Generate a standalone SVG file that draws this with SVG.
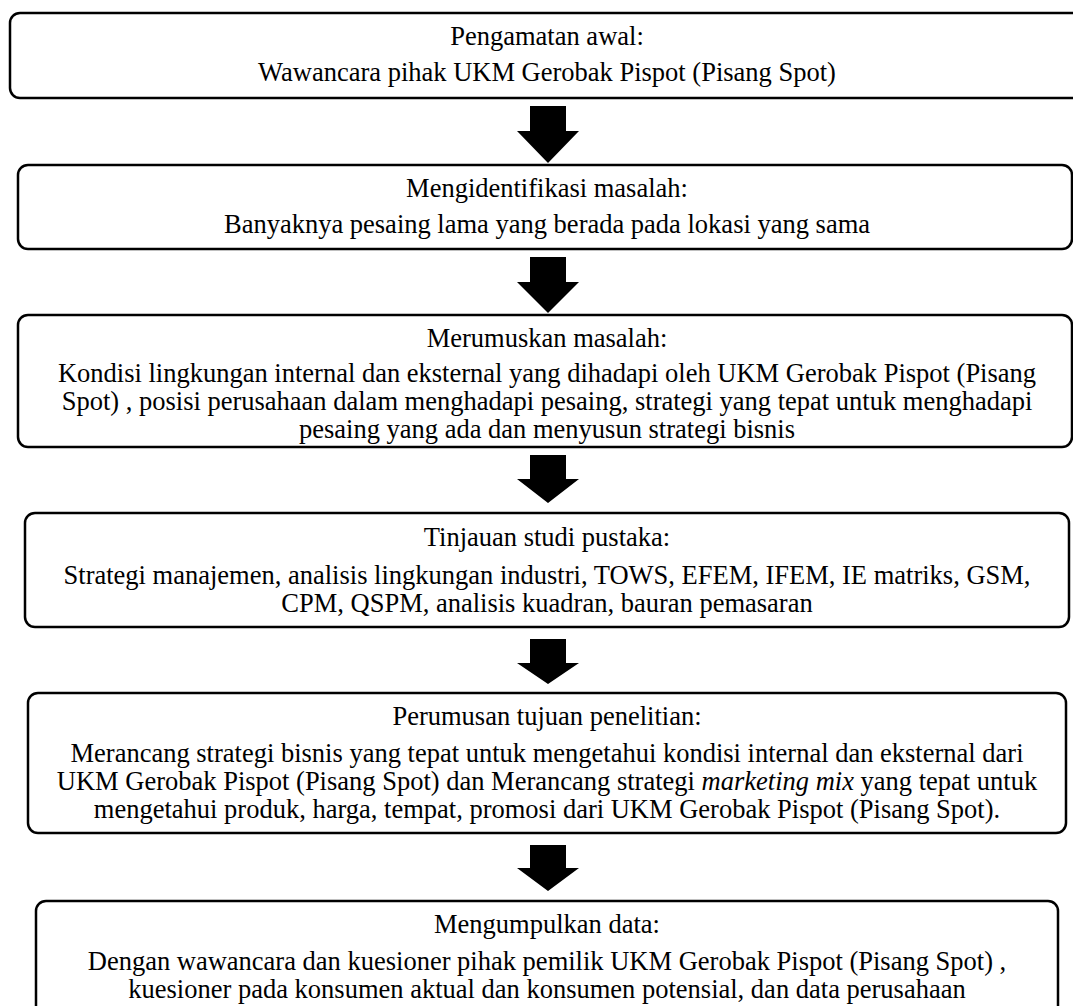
<svg xmlns="http://www.w3.org/2000/svg" width="1073" height="1006" viewBox="0 0 1073 1006">
<style>
.box{fill:#fff;stroke:#000;stroke-width:2.5}
text{font-family:"Liberation Serif","Times New Roman",serif;font-size:26.5px;fill:#000;text-anchor:middle}
.arr{fill:#000;stroke:none}
</style>
<rect width="1073" height="1006" fill="#fff"/>
<g id="node1">
<rect class="box" x="10" y="13" width="1080" height="85" rx="10"/>
<text x="547" y="45">Pengamatan awal:</text>
<text x="547" y="81">Wawancara pihak UKM Gerobak Pispot (Pisang Spot)</text>
</g>
<g id="node2">
<rect class="box" x="18" y="165" width="1054" height="84" rx="10"/>
<text x="547" y="197">Mengidentifikasi masalah:</text>
<text x="547" y="233">Banyaknya pesaing lama yang berada pada lokasi yang sama</text>
</g>
<g id="node3">
<rect class="box" x="18" y="315" width="1054" height="132" rx="10"/>
<text x="547" y="347">Merumuskan masalah:</text>
<text x="547" y="382">Kondisi lingkungan internal dan eksternal yang dihadapi oleh UKM Gerobak Pispot (Pisang</text>
<text x="547" y="410">Spot) , posisi perusahaan dalam menghadapi pesaing, strategi yang tepat untuk menghadapi</text>
<text x="547" y="438">pesaing yang ada dan menyusun strategi bisnis</text>
</g>
<g id="node4">
<rect class="box" x="25" y="513" width="1044" height="114" rx="10"/>
<text x="547" y="546">Tinjauan studi pustaka:</text>
<text x="547" y="584">Strategi manajemen, analisis lingkungan industri, TOWS, EFEM, IFEM, IE matriks, GSM,</text>
<text x="547" y="612">CPM, QSPM, analisis kuadran, bauran pemasaran</text>
</g>
<g id="node5">
<rect class="box" x="28" y="693" width="1038" height="140" rx="10"/>
<text x="547" y="725">Perumusan tujuan penelitian:</text>
<text x="547" y="762">Merancang strategi bisnis yang tepat untuk mengetahui kondisi internal dan eksternal dari</text>
<text x="547" y="790">UKM Gerobak Pispot (Pisang Spot) dan Merancang strategi <tspan font-style="italic">marketing mix</tspan> yang tepat untuk</text>
<text x="547" y="818">mengetahui produk, harga, tempat, promosi dari UKM Gerobak Pispot (Pisang Spot).</text>
</g>
<g id="node6">
<rect class="box" x="36" y="901" width="1022" height="130" rx="10"/>
<text x="547" y="933">Mengumpulkan data:</text>
<text x="547" y="970">Dengan wawancara dan kuesioner pihak pemilik UKM Gerobak Pispot (Pisang Spot) ,</text>
<text x="547" y="998">kuesioner pada konsumen aktual dan konsumen potensial, dan data perusahaan</text>
</g>
<g id="connectors">
<polygon class="arr" points="530,106 566,106 566,131 579,131 548,163 517,131 530,131"/>
<polygon class="arr" points="530,257 566,257 566,282 579,282 548,313 517,282 530,282"/>
<polygon class="arr" points="530,455 566,455 566,479 579,479 548,503 517,479 530,479"/>
<polygon class="arr" points="530,639 566,639 566,663 579,663 548,684 517,663 530,663"/>
<polygon class="arr" points="530,845 566,845 566,868 579,868 548,891 517,868 530,868"/>
</g>
</svg>
